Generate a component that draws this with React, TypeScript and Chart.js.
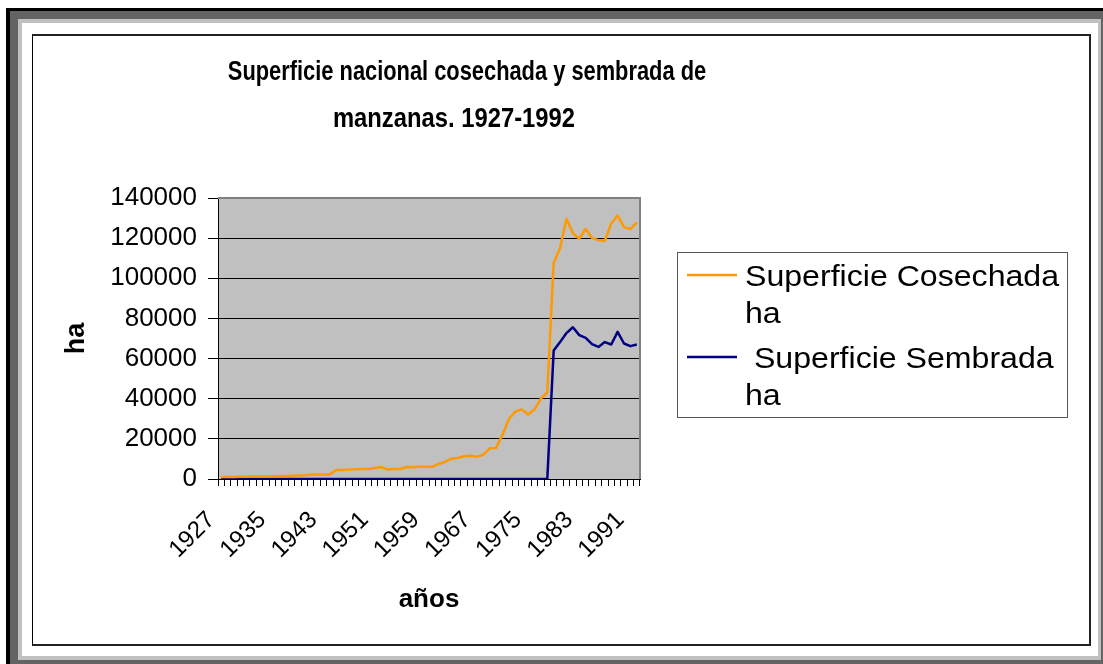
import React, { useEffect, useRef } from 'react';
import { Chart, registerables } from 'chart.js';

Chart.register(...registerables);

const years = [
  '1927', '1928', '1929', '1930', '1931', '1932', '1933', '1934', '1935', '1936',
  '1937', '1938', '1939', '1940', '1941', '1942', '1943', '1944', '1945', '1946',
  '1947', '1948', '1949', '1950', '1951', '1952', '1953', '1954', '1955', '1956',
  '1957', '1958', '1959', '1960', '1961', '1962', '1963', '1964', '1965', '1966',
  '1967', '1968', '1969', '1970', '1971', '1972', '1973', '1974', '1975', '1976',
  '1977', '1978', '1979', '1980', '1981', '1982', '1983', '1984', '1985', '1986',
  '1987', '1988', '1989', '1990', '1991', '1992',
];

const tickLabelYears = ['1927', '1935', '1943', '1951', '1959', '1967', '1975', '1983', '1991'];

const cosechada = [
  1000, 1000, 1000, 1100, 1200, 1200, 1200, 1300, 1400, 1400,
  1500, 1600, 1800, 1900, 2100, 2200, 2200, 2300, 4500, 4500,
  4700, 4800, 5000, 5000, 5500, 6000, 4700, 5000, 5000, 6000,
  5800, 6100, 6100, 6000, 7500, 8500, 10100, 10500, 11300, 11600,
  11100, 12100, 15300, 15500, 22100, 29900, 33600, 34700, 32100, 34600,
  40100, 43200, 107600, 115000, 129700, 122500, 119700, 124700, 120000, 119000,
  118700, 127300, 131200, 125500, 124500, 127800,
];

const sembrada = [
  0, 0, 0, 0, 0, 0, 0, 0, 0, 0,
  0, 0, 0, 0, 0, 0, 0, 0, 0, 0,
  0, 0, 0, 0, 0, 0, 0, 0, 0, 0,
  0, 0, 0, 0, 0, 0, 0, 0, 0, 0,
  0, 0, 0, 0, 0, 0, 0, 0, 0, 0,
  0, 0, 64000, 68200, 72700, 75600, 71700, 70300, 67200, 65800,
  68200, 67000, 73300, 67500, 66200, 67000,
];

const seriesNames = ['Superficie Cosechada ha', ' Superficie Sembrada ha'];
const seriesColors = ['#FF9900', '#000080'];
const titleLines = ['Superficie nacional cosechada y sembrada de', 'manzanas. 1927-1992'];
const yAxisTitle = 'ha';
const xAxisTitle = 'años';
const yMin = 0;
const yMax = 140000;
const yStep = 20000;

const FONT = '"Liberation Sans", Arial, Helvetica, sans-serif';

const plotBackground = {
  id: 'plotBackground',
  beforeDraw(chart: any) {
    const { ctx, chartArea } = chart;
    ctx.save();
    ctx.fillStyle = '#C0C0C0';
    ctx.fillRect(chartArea.left, chartArea.top, chartArea.right - chartArea.left, chartArea.bottom - chartArea.top);
    ctx.restore();
  },
  beforeDatasetsDraw(chart: any) {
    const { ctx, chartArea } = chart;
    ctx.save();
    ctx.strokeStyle = '#808080';
    ctx.lineWidth = 2;
    ctx.beginPath();
    ctx.moveTo(chartArea.left, chartArea.top);
    ctx.lineTo(chartArea.right, chartArea.top);
    ctx.lineTo(chartArea.right, chartArea.bottom);
    ctx.stroke();
    ctx.restore();
  },
};

const titlePlugin = {
  id: 'customTitle',
  afterDraw(chart: any) {
    const { ctx } = chart;
    const centers = [467, 454];
    const baselines = [80, 127];
    const scales = [0.78, 0.85];
    ctx.save();
    ctx.fillStyle = '#000';
    ctx.font = `bold 28px ${FONT}`;
    ctx.textAlign = 'center';
    ctx.textBaseline = 'alphabetic';
    titleLines.forEach((line, i) => {
      ctx.save();
      ctx.translate(centers[i], baselines[i]);
      ctx.scale(scales[i], 1);
      ctx.fillText(line, 0, 0);
      ctx.restore();
    });
    ctx.restore();
  },
};

function wrapText(ctx: CanvasRenderingContext2D, text: string, maxWidth: number): string[] {
  const lead = text.match(/^\s*/)?.[0] ?? '';
  const words = text.trim().split(/\s+/);
  const lines: string[] = [];
  let cur = lead;
  words.forEach((w) => {
    const test = cur.trim().length ? cur + ' ' + w : cur + w;
    if (ctx.measureText(test).width > maxWidth && cur.trim().length) {
      lines.push(cur);
      cur = w;
    } else {
      cur = test;
    }
  });
  if (cur.length) lines.push(cur);
  return lines;
}

const legendPlugin = {
  id: 'customLegend',
  afterDraw(chart: any) {
    const { ctx } = chart;
    const box = { x: 677.5, y: 252.5, w: 390, h: 165 };
    const sx = 1.07;
    ctx.save();
    ctx.strokeStyle = '#555555';
    ctx.lineWidth = 1;
    ctx.strokeRect(box.x, box.y, box.w, box.h);
    ctx.font = `30px ${FONT}`;
    ctx.textAlign = 'left';
    ctx.textBaseline = 'alphabetic';
    const lineH = 37;
    let y = 275;
    chart.data.datasets.forEach((ds: any) => {
      ctx.strokeStyle = ds.borderColor;
      ctx.lineWidth = 2.5;
      ctx.beginPath();
      ctx.moveTo(687, y);
      ctx.lineTo(737, y);
      ctx.stroke();
      ctx.fillStyle = '#000';
      const lines = wrapText(ctx, ds.label, 318 / sx);
      lines.forEach((l, k) => {
        ctx.save();
        ctx.translate(745, y + 11 + k * lineH);
        ctx.scale(sx, 1);
        ctx.fillText(l, 0, 0);
        ctx.restore();
      });
      y += lines.length * lineH + 8;
    });
    ctx.restore();
  },
};

export default function App() {
  const canvasRef = useRef<HTMLCanvasElement | null>(null);

  useEffect(() => {
    if (!canvasRef.current) return;
    const chart = new Chart(canvasRef.current, {
      type: 'line',
      data: {
        labels: years,
        datasets: [
          {
            label: seriesNames[0],
            data: cosechada,
            borderColor: seriesColors[0],
            backgroundColor: seriesColors[0],
            borderWidth: 2.5,
            pointRadius: 0,
            tension: 0,
            borderJoinStyle: 'round',
          },
          {
            label: seriesNames[1],
            data: sembrada,
            borderColor: seriesColors[1],
            backgroundColor: seriesColors[1],
            borderWidth: 2.5,
            pointRadius: 0,
            tension: 0,
            borderJoinStyle: 'round',
          },
        ],
      },
      options: {
        responsive: false,
        animation: false,
        devicePixelRatio: 1,
        layout: { padding: { left: 40, top: 198, right: 463, bottom: 49 } },
        plugins: {
          legend: { display: false },
          title: { display: false },
          tooltip: { enabled: false },
        },
        scales: {
          x: {
            type: 'category',
            offset: true,
            grid: {
              offset: true,
              drawOnChartArea: false,
              drawTicks: true,
              tickLength: 7,
              color: '#000',
              tickColor: '#000',
              lineWidth: 1,
            },
            border: { display: true, color: '#000', width: 1 },
            ticks: {
              autoSkip: false,
              maxRotation: 45,
              minRotation: 45,
              padding: 20,
              labelOffset: -10,
              color: '#000',
              font: { family: FONT, size: 24 },
              callback: function (this: any, value: any) {
                const lab = this.getLabelForValue(value);
                return tickLabelYears.includes(lab) ? lab : '';
              },
            },
            title: {
              display: true,
              text: xAxisTitle,
              color: '#000',
              font: { family: FONT, size: 26, weight: 'bold' },
              padding: { top: 0, bottom: 0 },
            },
            afterFit: (scale: any) => {
              scale.height = 136;
            },
          },
          y: {
            min: yMin,
            max: yMax,
            grid: {
              color: '#000',
              tickColor: '#000',
              lineWidth: 1,
              drawTicks: true,
              tickLength: 10,
            },
            border: { display: true, color: '#000', width: 1 },
            ticks: {
              stepSize: yStep,
              padding: 11,
              color: '#000',
              font: { family: FONT, size: 26 },
              callback: (v: any) => String(v),
            },
            title: {
              display: true,
              text: yAxisTitle,
              color: '#000',
              font: { family: FONT, size: 27, weight: 'bold' },
              padding: { top: 20, bottom: 0 },
            },
            afterFit: (scale: any) => {
              scale.width = 178;
            },
          },
        },
      } as any,
      plugins: [plotBackground, titlePlugin, legendPlugin],
    });
    return () => chart.destroy();
  }, []);

  const abs = (s: React.CSSProperties): React.CSSProperties => ({ position: 'absolute', ...s });

  return (
    <div style={{ position: 'fixed', left: 0, top: 0, width: 1103, height: 664, overflow: 'hidden', background: '#fff' }}>
      <div style={abs({ left: 6, top: 8, width: 1200, height: 800, background: '#000' })} />
      <div style={abs({ left: 10, top: 11, width: 1200, height: 800, background: '#646464' })} />
      <div style={abs({ left: 18, top: 19, width: 1083, height: 641, background: '#C0C0C0' })} />
      <div style={abs({ left: 22, top: 23, width: 1076, height: 633, background: '#fff' })} />
      <div
        style={abs({
          left: 32,
          top: 34,
          width: 1059,
          height: 612,
          boxSizing: 'border-box',
          borderLeft: '1px solid #000',
          borderTop: '2px solid #222',
          borderRight: '2px solid #222',
          borderBottom: '2px solid #222',
          background: '#fff',
        })}
      />
      <canvas ref={canvasRef} width={1103} height={664} style={abs({ left: 0, top: 0, width: 1103, height: 664 })} />
    </div>
  );
}
